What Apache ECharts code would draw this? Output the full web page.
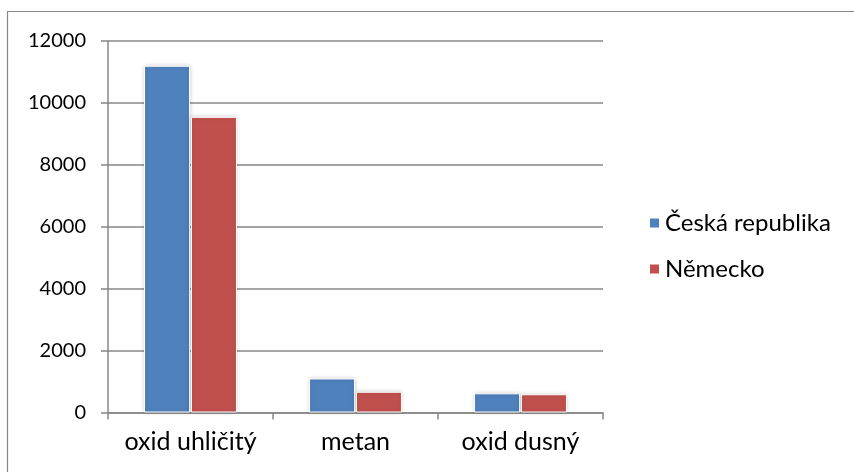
<!DOCTYPE html>
<html>
<head>
<meta charset="utf-8">
<script src="https://cdn.jsdelivr.net/npm/echarts@6/dist/echarts.min.js"></script>
<style>
  html, body { margin: 0; padding: 0; background: #ffffff; }
  #chart { width: 854px; height: 472px; }
</style>
</head>
<body>
<div id="chart"></div>
<script>
// Emissions by gas (categories) for two countries
const categories = ['oxid uhličitý', 'metan', 'oxid dusný'];
const seriesNames = ['Česká republika', 'Německo'];
const czValues = [11200, 1100, 620];
const deValues = [9550, 670, 590];
const yTicks = { min: 0, max: 12000, interval: 2000 };

const FONT = 'Lato';
const GRAY = '#878787';

const chart = echarts.init(document.getElementById('chart'), null, { renderer: 'canvas' });

const barStyle = (color) => ({
  color: color,
  borderColor: '#ffffff',
  borderWidth: 1,
  shadowColor: 'rgba(0,0,0,0.18)',
  shadowBlur: 4
});

chart.setOption({
  animation: false,
  backgroundColor: '#ffffff',
  textStyle: { fontFamily: FONT, color: '#000' },
  graphic: [{
    type: 'rect',
    shape: { x: 7.5, y: 11.5, width: 900, height: 500 },
    style: { fill: 'none', stroke: GRAY, lineWidth: 1.2 },
    silent: true,
    z: 0
  }],
  grid: { left: 108, top: 41, right: 251, bottom: 59.5, containLabel: false },
  legend: {
    orient: 'vertical',
    left: 643,
    top: 206,
    itemWidth: 11,
    itemHeight: 11,
    itemGap: 22,
    icon: 'rect',
    textStyle: { fontFamily: FONT, fontSize: 24, color: '#000' },
    data: seriesNames
  },
  xAxis: {
    type: 'category',
    data: categories,
    axisLine: { show: true, lineStyle: { color: GRAY, width: 1.5 } },
    axisTick: { show: true, length: 7, alignWithLabel: false, lineStyle: { color: GRAY, width: 1.5 } },
    axisLabel: { fontFamily: FONT, fontSize: 25, color: '#000', margin: 17, interval: 0, hideOverlap: false }
  },
  yAxis: {
    type: 'value',
    min: yTicks.min,
    max: yTicks.max,
    interval: yTicks.interval,
    axisLine: { show: true, lineStyle: { color: GRAY, width: 1.5 } },
    axisTick: { show: true, length: 7, lineStyle: { color: GRAY, width: 1.5 } },
    splitLine: { show: true, lineStyle: { color: GRAY, width: 1.5 } },
    axisLabel: {
      fontFamily: FONT, fontSize: 20, color: '#000', margin: 22,
      formatter: (v) => String(v)
    }
  },
  series: [
    {
      name: seriesNames[0],
      type: 'bar',
      data: czValues,
      barWidth: 46,
      barGap: '2%',
      itemStyle: barStyle('#4F81BD')
    },
    {
      name: seriesNames[1],
      type: 'bar',
      data: deValues,
      barWidth: 46,
      barGap: '2%',
      itemStyle: barStyle('#C0504D')
    }
  ]
});
</script>
</body>
</html>
